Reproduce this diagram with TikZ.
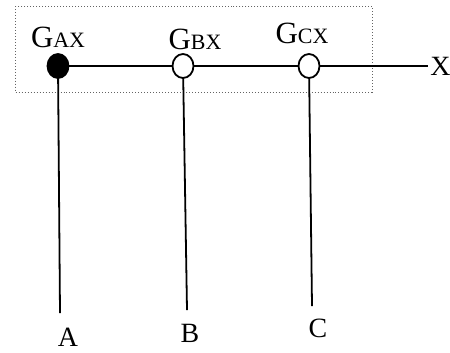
\documentclass[tikz,border=0pt]{standalone}
\usepackage{fontspec}
\setmainfont{Liberation Serif}
\usetikzlibrary{positioning, shapes.geometric}
\definecolor{fencegray}{RGB}{100,100,100}
\newcommand{\gsub}[1]{G{\fontsize{11}{11}\selectfont #1}}
\tikzset{
  gate/.style={
    draw=black,
    ellipse,
    line width=0.9pt,
    inner sep=0pt,
    minimum width=10.5bp,
    minimum height=12bp
  },
  wire/.style={line width=0.9pt},
  fence/.style={draw=fencegray, densely dotted, line width=0.5pt},
  lbl/.style={font=\fontsize{14}{14}\selectfont, inner sep=0pt},
  glbl/.style={font=\fontsize{15.5}{15.5}\selectfont, inner sep=0pt, anchor=base}
}
\begin{document}
\begin{tikzpicture}[x=0.5bp, y=-0.5bp]
\useasboundingbox (0,0) rectangle (450,352);

% dotted frame round the G part
\draw[fence] (15,6) rectangle (372,92);

\node[gate, fill=black] (gA) at (58,66) {};
\node[gate, fill=white] (gB) at (183,66) {};
\node[gate, fill=white] (gC) at (309,66) {};
\coordinate (xend) at (428,66);

\node[glbl] (labGA) at (58,47) {\gsub{AX}};
\node[glbl] (labGB) at (195,49) {\gsub{BX}};
\node[glbl] (labGC) at (302,43) {\gsub{CX}};
\node[lbl, right=1bp of xend] (labX) {X};

\coordinate (endA) at (60,313);
\coordinate (endB) at (187,310);
\coordinate (endC) at (312,306);

\node[lbl] (labA) at (68,337) {A};
\node[lbl] (labB) at (190,333) {B};
\node[lbl] (labC) at (318,328) {C};

\draw[wire] (gA) -- (gB) -- (gC) -- (xend);
\draw[wire] (gA) -- (endA);
\draw[wire] (gB) -- (endB);
\draw[wire] (gC) -- (endC);

\end{tikzpicture}
\end{document}
